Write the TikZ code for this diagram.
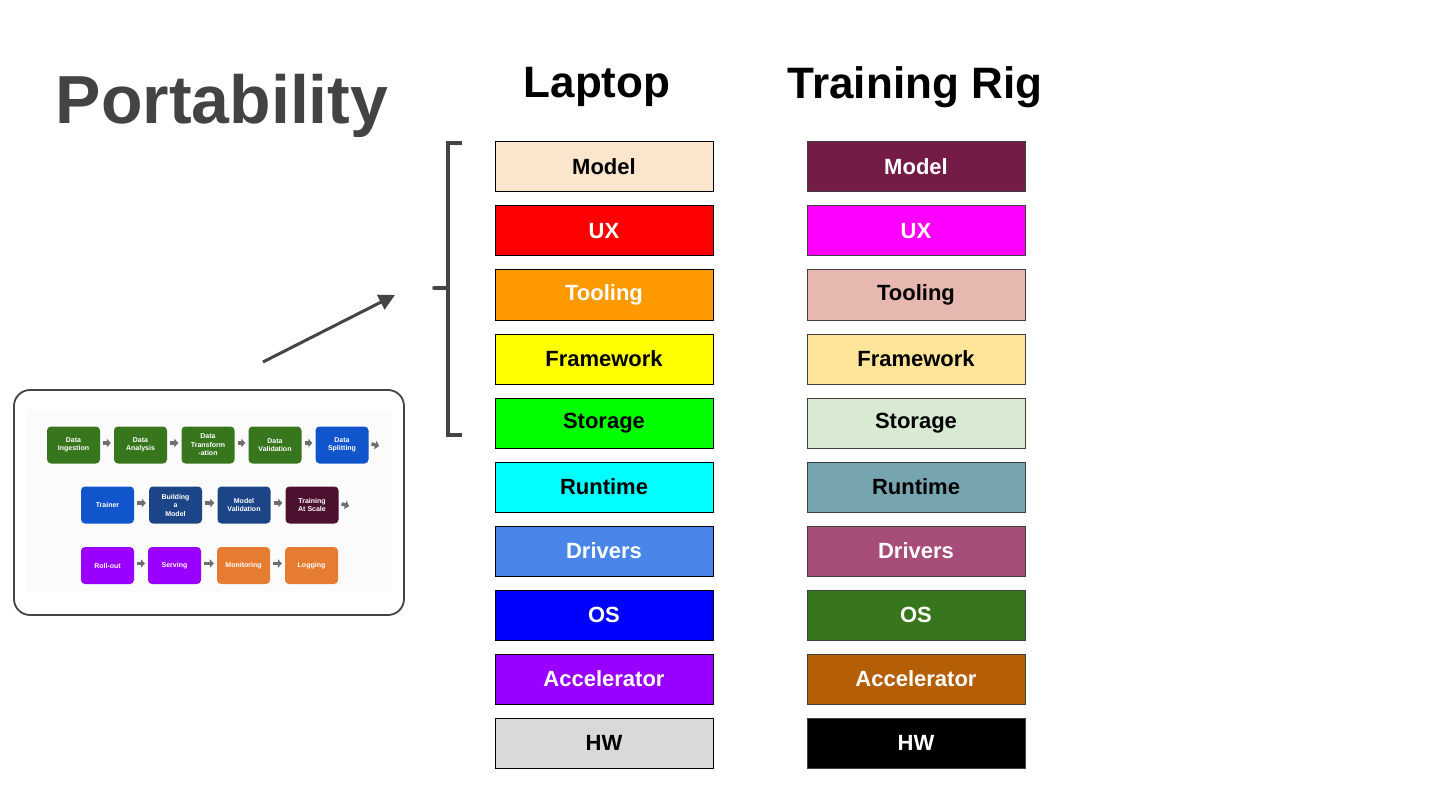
\documentclass[tikz,border=0pt]{standalone}
\usepackage{fontspec}
\setmainfont{Liberation Sans}
\usetikzlibrary{arrows.meta}
\definecolor{titlegray}{HTML}{434343}
\definecolor{brk}{HTML}{444444}
\definecolor{pgreen}{HTML}{38761D}
\definecolor{pblue}{HTML}{1155CC}
\definecolor{pdblue}{HTML}{1C4587}
\definecolor{pmaroon}{HTML}{4C1130}
\definecolor{ppurple}{HTML}{9900FF}
\definecolor{porange}{HTML}{E67C32}
\definecolor{parr}{HTML}{6E6E6E}
\definecolor{pbg}{HTML}{FBFBFB}
\begin{document}
\begin{tikzpicture}[x=1pt,y=-1pt,
  stackbox/.style={draw=black,line width=1pt,minimum width=218pt,minimum height=50pt,inner sep=0pt,font=\fontsize{22}{24}\selectfont\bfseries},
  rigbox/.style={stackbox,draw=black!75},
  pbox/.style={rounded corners=4pt,minimum width=53pt,minimum height=37pt,inner sep=0pt,align=center,text=white,font=\fontsize{7}{8.5}\selectfont\bfseries},
  parrow/.style={draw=parr,line width=3.4pt,-{Triangle[length=4pt,width=8.5pt]},shorten <=3pt,shorten >=3pt},
  ttl/.style={font=\fontsize{44}{48}\selectfont\bfseries}
]
\useasboundingbox (0,0) rectangle (1440,810);
\fill[white] (0,0) rectangle (1440,810);

% titles
\node[font=\fontsize{68}{72}\selectfont\bfseries,text=titlegray] (title) at (222,106) {Portability};
\node[ttl] (lap) at (597,87) {Laptop};
\node[ttl] (rig) at (915,87) {Training Rig};

% laptop stack
\foreach \n/\lbl/\fc/\tc [count=\i from 0] in {
  lm/Model/FCE5CD/000000, lu/UX/FF0000/FFFFFF, lt/Tooling/FF9900/FFFFFF, lf/Framework/FFFF00/000000,
  ls/Storage/00FF00/000000, lr/Runtime/00FFFF/000000, ld/Drivers/4A86E8/FFFFFF, lo/OS/0000FF/FFFFFF,
  la/Accelerator/9900FF/FFFFFF, lh/HW/D9D9D9/000000}{
  \definecolor{fcol}{HTML}{\fc}\definecolor{tcol}{HTML}{\tc}
  \node[stackbox,fill=fcol,text=tcol] (\n) at (604,167+64*\i) {\lbl};
}
% rig stack
\foreach \n/\lbl/\fc/\tc [count=\i from 0] in {
  rm/Model/741B47/FFFFFF, ru/UX/FF00FF/FFFFFF, rt/Tooling/E6B8AF/000000, rf/Framework/FFE599/000000,
  rs/Storage/D9EAD3/000000, rr/Runtime/76A5AF/000000, rd/Drivers/A64D79/FFFFFF, ro/OS/38761D/FFFFFF,
  ra/Accelerator/B45F06/FFFFFF, rh/HW/000000/FFFFFF}{
  \definecolor{fcol}{HTML}{\fc}\definecolor{tcol}{HTML}{\tc}
  \node[rigbox,fill=fcol,text=tcol] (\n) at (916,167+64*\i) {\lbl};
}

% bracket
\coordinate (bt) at (462,143);
\coordinate (bb) at (462,435);
\coordinate (bm) at (434,288);
\draw[brk,line width=3.5pt] (bt) -- (448,143) -- (448,435) -- (bb);
\draw[brk,line width=3.5pt,line cap=round] (bm) -- (448,288);

% arrow
\coordinate (as) at (263,362);
\coordinate (ae) at (395,295);
\draw[brk,line width=3pt,-{Triangle[length=16pt,width=16pt]}] (as) -- (ae);

% pipeline frame
\node[draw=brk,line width=1.8pt,rounded corners=16pt,minimum width=390pt,minimum height=225pt,inner sep=0pt] (frame) at (209,502.5) {};
\fill[pbg] (27,410) rectangle (392,592);

% row 1
\node[pbox,fill=pgreen] (p1) at (73.5,445) {Data\\Ingestion};
\node[pbox,fill=pgreen] (p2) at (140.5,445) {Data\\Analysis};
\node[pbox,fill=pgreen] (p3) at (208,445) {Data\\Transform\\-ation};
\node[pbox,fill=pgreen] (p4) at (275,445) {Data\\Validation};
\node[pbox,fill=pblue] (p5) at (342,445) {Data\\Splitting};
\coordinate (p5e) at (382,447);
% row 2
\node[pbox,fill=pblue] (q1) at (107.5,505) {Trainer};
\node[pbox,fill=pdblue] (q2) at (175.5,505) {Building\\a\\Model};
\node[pbox,fill=pdblue] (q3) at (244,505) {Model\\Validation};
\node[pbox,fill=pmaroon] (q4) at (312,505) {Training\\At Scale};
\coordinate (q4e) at (352,507);
% row 3
\node[pbox,fill=ppurple] (r1) at (107.5,565.5) {Roll-out};
\node[pbox,fill=ppurple] (r2) at (174.5,565.5) {Serving};
\node[pbox,fill=porange] (r3) at (243.5,565.5) {Monitoring};
\node[pbox,fill=porange] (r4) at (311.5,565.5) {Logging};

\foreach \a/\b in {p1/p2,p2/p3,p3/p4,p4/p5,q1/q2,q2/q3,q3/q4,r1/r2,r2/r3,r3/r4}{
  \draw[parrow] ([yshift=2pt]\a.east) -- ([yshift=2pt]\b.west);
}
\draw[parrow] ([yshift=2pt]p5.east) -- (p5e);
\draw[parrow] ([yshift=2pt]q4.east) -- (q4e);
\end{tikzpicture}
\end{document}
